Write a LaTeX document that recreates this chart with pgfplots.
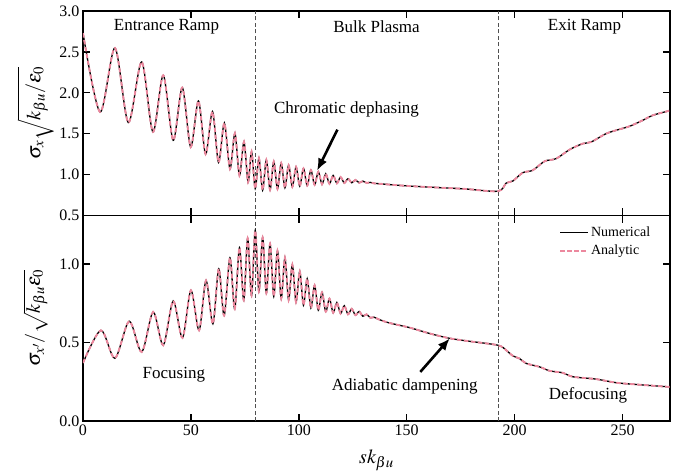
\documentclass[border=0pt]{standalone}
\usepackage{mathptmx}
\usepackage{fontspec}
\setmainfont{Liberation Serif}
\usepackage{pgfplots}
\usepackage{pgfplotstable}
\pgfplotsset{compat=1.18}
\usetikzlibrary{arrows.meta}
\definecolor{pinkc}{RGB}{236,136,158}
\definecolor{vgray}{RGB}{80,80,80}

\pgfplotstableread{
x y
0 2.73
7.9 1.765
14.8 2.548
21.0 1.636
27.2 2.377
32.4 1.521
37.2 2.214
41.8 1.419
46.0 2.064
49.9 1.337
53.5 1.900
56.8 1.250
60.0 1.770
62.8 1.150
65.5 1.630
68.1 1.070
70.4 1.505
72.5 0.990
74.6 1.400
76.5 0.910
78.1 1.280
79.80 0.830
81.52 1.200
83.24 0.810
84.96 1.180
86.68 0.815
88.40 1.160
90.12 0.825
91.84 1.140
93.56 0.838
95.28 1.115
97.00 0.850
98.72 1.095
100.44 0.858
102.16 1.075
103.88 0.866
105.60 1.055
107.32 0.874
109.04 1.035
110.76 0.882
112.48 1.010
114.20 0.888
115.92 0.990
117.64 0.893
119.36 0.970
121.08 0.897
122.80 0.950
124.52 0.900
126.24 0.935
127.96 0.900
129.68 0.920
131.40 0.898
133.12 0.905
134.84 0.893
137 0.889
142 0.878
150 0.862
162 0.845
177 0.825
192.3 0.797
196.1 0.897
199.2 0.922
203.8 1.024
208.4 1.053
213.9 1.163
219.3 1.196
225.5 1.306
231.6 1.379
235.5 1.399
242.4 1.501
248.6 1.554
253.2 1.590
259.4 1.664
264 1.725
271.1 1.777
272 1.785
}\topdata

\pgfplotstableread{
x y
0 0.37
8.3 0.578
14.8 0.400
21.4 0.636
27.2 0.440
32.5 0.695
37.2 0.483
41.8 0.765
46.1 0.530
50.0 0.833
53.8 0.578
57.0 0.896
60.2 0.620
62.9 0.970
65.4 0.672
68.1 1.040
70.3 0.714
72.5 1.105
74.5 0.770
76.3 1.165
78.1 0.800
79.80 1.214
81.52 0.825
83.24 1.170
84.96 0.815
86.68 1.130
88.40 0.795
90.12 1.085
91.84 0.780
93.56 1.040
95.28 0.772
97.00 0.996
98.72 0.758
100.44 0.954
102.16 0.738
103.88 0.907
105.60 0.720
107.32 0.865
109.04 0.706
110.76 0.820
112.48 0.697
114.20 0.780
115.92 0.690
117.64 0.755
119.36 0.685
121.08 0.735
122.80 0.680
124.52 0.715
126.24 0.675
127.96 0.698
129.68 0.668
131.40 0.680
133.12 0.658
134.84 0.662
137 0.648
142 0.625
151.4 0.595
160.6 0.558
169.9 0.527
179.2 0.508
192.3 0.483
196.1 0.451
199.2 0.415
202.3 0.398
205.4 0.367
211.6 0.345
216.2 0.320
222.4 0.307
227 0.282
237.8 0.267
247.1 0.244
256.3 0.233
272 0.217
}\botdata

\pgfplotsset{
  /pgf/number format/assume math mode=true,
  myaxis/.style={
    scale only axis, width=587pt,
    xmin=0, xmax=272,
    xtick={0,50,100,150,200,250},
    tick align=inside, tick pos=both,
    major tick length=7pt,
    axis line style={line width=1.6pt},
    tick style={line width=1.4pt, black},
    tick label style={font=\fontsize{16}{16}\selectfont},
    label style={font=\fontsize{20}{20}\selectfont},
    yticklabel style={/pgf/number format/fixed, /pgf/number format/fixed zerofill, /pgf/number format/precision=1},
    ylabel style={at={(axis description cs:-0.081,0.5)}, anchor=center},
  },
  numer/.style={black, line width=1.3pt, smooth},
  analyt/.style={pinkc, line width=1.9pt, dash pattern=on 4.5pt off 2.5pt, smooth},
  vline/.style={vgray, line width=1pt, dash pattern=on 4pt off 2.5pt, forget plot},
}

\begin{document}
\begin{tikzpicture}
\begin{axis}[myaxis, name=top, height=204.5pt,
  ymin=0.5, ymax=3.0, ytick={0.5,1.0,1.5,2.0,2.5,3.0},
  xticklabels={},
  ylabel={$\sigma_x\sqrt{k_{\beta u}/\varepsilon_0}$}]
\addplot[vline] coordinates {(80,0.5) (80,3.0)};
\addplot[vline] coordinates {(192.5,0.5) (192.5,3.0)};
\addplot[numer] table {\topdata};
\addplot[analyt] table {\topdata};
\node[font=\fontsize{17}{17}\selectfont] at (axis cs:38.7,2.81) {Entrance Ramp};
\node[font=\fontsize{17}{17}\selectfont] at (axis cs:136,2.81) {Bulk Plasma};
\node[font=\fontsize{17}{17}\selectfont] at (axis cs:232.4,2.81) {Exit Ramp};
\node[font=\fontsize{17}{17}\selectfont] at (axis cs:122.1,1.795) {Chromatic dephasing};
\draw[-{Latex[length=12pt,width=10pt]}, line width=2.6pt] (axis cs:117.9,1.55) -- (axis cs:108.5,1.05);
\end{axis}
\begin{axis}[myaxis, name=bot, at={(top.south west)}, anchor=north west, height=205.5pt,
  ymin=0, ymax=1.31, ytick={0.0,0.5,1.0},
  xlabel={$sk_{\beta u}$},
  xlabel style={at={(axis description cs:0.5,-0.19)}, anchor=center},
  ylabel={$\sigma_{x'}/\sqrt{k_{\beta u}\varepsilon_0}$},
  legend style={at={(rel axis cs:0.975,0.965)}, anchor=north east, draw=none, fill=none,
    font=\fontsize{14}{14}\selectfont, row sep=3pt},
  legend cell align=left,
  legend image code/.code={\draw[#1] (0pt,0pt) -- (28pt,0pt);}]
\addplot[vline] coordinates {(80,0) (80,1.31)};
\addplot[vline] coordinates {(192.5,0) (192.5,1.31)};
\addplot[numer] table {\botdata};
\addlegendentry{Numerical}
\addplot[analyt] table {\botdata};
\addlegendentry{Analytic}
\node[font=\fontsize{17}{17}\selectfont] at (axis cs:42.1,0.292) {Focusing};
\node[font=\fontsize{17}{17}\selectfont] at (axis cs:149.1,0.218) {Adiabatic dampening};
\node[font=\fontsize{17}{17}\selectfont] at (axis cs:234,0.165) {Defocusing};
\draw[-{Latex[length=12pt,width=10pt]}, line width=2.6pt] (axis cs:156.3,0.313) -- (axis cs:169.9,0.526);
\end{axis}
\pgfresetboundingbox
\path ([xshift=-83pt,yshift=11pt]top.north west) rectangle ([xshift=18pt,yshift=-55pt]bot.south east);
\end{tikzpicture}
\end{document}
